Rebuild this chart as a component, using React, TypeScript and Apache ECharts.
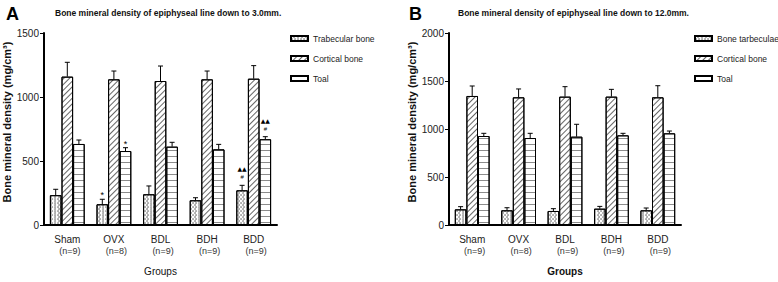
import React, { useEffect, useRef } from 'react';
import * as echarts from 'echarts';

const categories = ['Sham', 'OVX', 'BDL', 'BDH', 'BDD'];
const groupSizes = ['(n=9)', '(n=8)', '(n=9)', '(n=9)', '(n=9)'];

const leftNames = ['Trabecular bone', 'Cortical bone', 'Toal'];
const rightNames = ['Bone tarbeculae', 'Cortical bone', 'Toal'];

// Panel A (down to 3.0 mm)
const aTrabecular = [233, 162, 240, 193, 271];
const aTrabecularSd = [46, 39, 65, 20, 39];
const aCortical = [1159, 1138, 1125, 1138, 1143];
const aCorticalSd = [112, 65, 117, 65, 102];
const aTotal = [633, 578, 612, 591, 670];
const aTotalSd = [31, 26, 34, 39, 20];
const aTrabecularMarks = ['', '*', '', '', '▲▲|#'];
const aCorticalMarks = ['', '', '', '', ''];
const aTotalMarks = ['', '*', '', '', '▲▲|#'];

// Panel B (down to 12.0 mm)
const bTrabecular = [163, 153, 146, 170, 153];
const bTrabecularSd = [28, 27, 24, 24, 24];
const bCortical = [1344, 1330, 1337, 1337, 1330];
const bCorticalSd = [104, 87, 104, 76, 121];
const bTotal = [927, 906, 920, 934, 955];
const bTotalSd = [28, 49, 129, 21, 24];
const bMarks = ['', '', '', '', ''];

const aTicks = { max: 1500, interval: 500 };
const bTicks = { max: 2000, interval: 500 };

const FONT = 'Liberation Sans, Arial, sans-serif';

const decals = [
  {
    symbol: 'circle',
    symbolSize: 0.9,
    dashArrayX: [[2, 1], [0, 1.5, 2, 0]],
    dashArrayY: [2, 0],
    color: 'rgba(0,0,0,0.4)',
  },
  {
    symbol: 'rect',
    symbolSize: 1,
    dashArrayX: [1, 0],
    dashArrayY: [1, 2.6],
    rotation: -Math.PI / 4,
    color: 'rgba(0,0,0,0.6)',
  },
  {
    symbol: 'rect',
    symbolSize: 1,
    dashArrayX: [1, 0],
    dashArrayY: [1, 4.5],
    rotation: 0,
    color: 'rgba(0,0,0,0.45)',
  },
];

function barSeries(name: string, values: number[], idx: number, s: number, barW: number) {
  return {
    type: 'bar',
    name,
    xAxisIndex: idx,
    yAxisIndex: idx,
    data: values,
    barWidth: barW,
    barGap: '0%',
    itemStyle: { color: '#fff', borderColor: '#000', borderWidth: 1, decal: decals[s] },
    emphasis: { disabled: true },
  };
}

function errorSeries(idx: number, barW: number, means: number[][], sds: number[][], marks: string[][]) {
  const items: number[][] = [];
  const itemMarks: string[] = [];
  means.forEach((arr, s) => {
    arr.forEach((m, c) => {
      items.push([c, s, m, m + sds[s][c]]);
      itemMarks.push(marks[s][c]);
    });
  });
  return {
    type: 'custom',
    xAxisIndex: idx,
    yAxisIndex: idx,
    z: 5,
    silent: true,
    data: items,
    encode: { x: 0, y: 3 },
    renderItem: (params: any, api: any) => {
      const c = api.value(0);
      const s = api.value(1);
      const m = api.value(2);
      const t = api.value(3);
      const p0 = api.coord([c, m]);
      const p1 = api.coord([c, t]);
      const x = p0[0] + (s - 1) * barW;
      const children: any[] = [
        { type: 'line', shape: { x1: x, y1: p0[1], x2: x, y2: p1[1] }, style: { stroke: '#000', lineWidth: 1 } },
        { type: 'line', shape: { x1: x - 2.5, y1: p1[1], x2: x + 2.5, y2: p1[1] }, style: { stroke: '#000', lineWidth: 1 } },
      ];
      const mk = itemMarks[params.dataIndex];
      if (mk) {
        const parts = mk.split('|');
        if (parts.length === 1) {
          children.push({
            type: 'text', x, y: p1[1] - 4,
            style: { text: parts[0], fill: '#000', font: `9px ${FONT}`, align: 'center', verticalAlign: 'middle' },
          });
        } else {
          children.push({
            type: 'text', x, y: p1[1] - 16.5,
            style: { text: parts[0], fill: '#000', font: `6px DejaVu Sans`, align: 'center', verticalAlign: 'middle' },
          });
          children.push({
            type: 'text', x, y: p1[1] - 8,
            style: { text: parts[1], fill: '#000', font: `6px ${FONT}`, align: 'center', verticalAlign: 'middle' },
          });
        }
      }
      return { type: 'group', children };
    },
  };
}

function xAxis(idx: number, boldName: boolean) {
  return {
    type: 'category',
    gridIndex: idx,
    data: categories,
    axisLine: { lineStyle: { color: '#000', width: 2 } },
    axisTick: { show: false },
    axisLabel: {
      margin: 9,
      interval: 0,
      formatter: (v: string, i: number) => `{a|${v}}\n{b|${groupSizes[i]}}`,
      rich: {
        a: { fontSize: 10, lineHeight: 11, color: '#222', fontFamily: FONT },
        b: { fontSize: 9, lineHeight: 12, color: '#333', fontFamily: FONT, padding: [0, 0, 0, 5] },
      },
    },
    name: 'Groups',
    nameLocation: 'middle',
    nameGap: 41,
    nameTextStyle: { fontSize: 10, fontWeight: boldName ? 'bold' : 'normal', color: '#111', fontFamily: FONT },
  };
}

function yAxis(idx: number, t: { max: number; interval: number }) {
  return {
    type: 'value',
    gridIndex: idx,
    min: 0,
    max: t.max,
    interval: t.interval,
    axisLine: { show: true, lineStyle: { color: '#000', width: 2 } },
    axisTick: { show: true, length: 4, lineStyle: { color: '#000', width: 1 } },
    splitLine: { show: false },
    axisLabel: { fontSize: 10, color: '#222', margin: 5, fontFamily: FONT, formatter: (v: number) => String(v) },
    name: 'Bone mineral density (mg/cm³)',
    nameLocation: 'middle',
    nameGap: 32,
    nameTextStyle: { fontSize: 11, fontWeight: 'bold', color: '#111', fontFamily: FONT, padding: [0, 0, 0, 14] },
  };
}

export default function App() {
  const ref = useRef<HTMLDivElement>(null);
  useEffect(() => {
    if (!ref.current) return;
    const chart = echarts.init(ref.current, undefined, { renderer: 'svg' });
    const barW = 11.6;
    const legendText = { fontSize: 8.5, color: '#222', fontFamily: FONT };
    chart.setOption({
      animation: false,
      backgroundColor: '#fff',
      title: [
        { text: 'A', left: 1, top: 0, textStyle: { fontSize: 18, fontWeight: 'bold', color: '#000', fontFamily: FONT } },
        { text: 'Bone mineral density of epiphyseal line down to 3.0mm.', left: 50, top: 3, textStyle: { fontSize: 8.5, fontWeight: 'bold', color: '#111', fontFamily: FONT } },
        { text: 'B', left: 404, top: 0, textStyle: { fontSize: 18, fontWeight: 'bold', color: '#000', fontFamily: FONT } },
        { text: 'Bone mineral density of epiphyseal line down to 12.0mm.', left: 453, top: 3, textStyle: { fontSize: 8.5, fontWeight: 'bold', color: '#111', fontFamily: FONT } },
      ],
      legend: [
        {
          data: leftNames, left: 285, top: 29, orient: 'vertical', itemWidth: 17, itemHeight: 5, itemGap: 11,
          icon: 'rect', textStyle: legendText, selectedMode: false,
        },
        {
          data: rightNames, left: 689, top: 29, orient: 'vertical', itemWidth: 17, itemHeight: 5, itemGap: 11,
          icon: 'rect', textStyle: legendText, selectedMode: false,
        },
      ],
      grid: [
        { left: 43, top: 33, width: 234, height: 192 },
        { left: 449, top: 33, width: 232, height: 192 },
      ],
      xAxis: [xAxis(0, false), xAxis(1, true)],
      yAxis: [yAxis(0, aTicks), yAxis(1, bTicks)],
      series: [
        barSeries(leftNames[0], aTrabecular, 0, 0, barW),
        barSeries(leftNames[1], aCortical, 0, 1, barW),
        barSeries(leftNames[2], aTotal, 0, 2, barW),
        errorSeries(0, barW, [aTrabecular, aCortical, aTotal], [aTrabecularSd, aCorticalSd, aTotalSd], [aTrabecularMarks, aCorticalMarks, aTotalMarks]),
        barSeries(rightNames[0], bTrabecular, 1, 0, barW),
        barSeries(rightNames[1], bCortical, 1, 1, barW),
        barSeries(rightNames[2], bTotal, 1, 2, barW),
        errorSeries(1, barW, [bTrabecular, bCortical, bTotal], [bTrabecularSd, bCorticalSd, bTotalSd], [bMarks, bMarks, bMarks]),
      ],
    });
    return () => chart.dispose();
  }, []);
  return <div ref={ref} style={{ position: 'absolute', left: 0, top: 0, width: 778, height: 282 }} />;
}
